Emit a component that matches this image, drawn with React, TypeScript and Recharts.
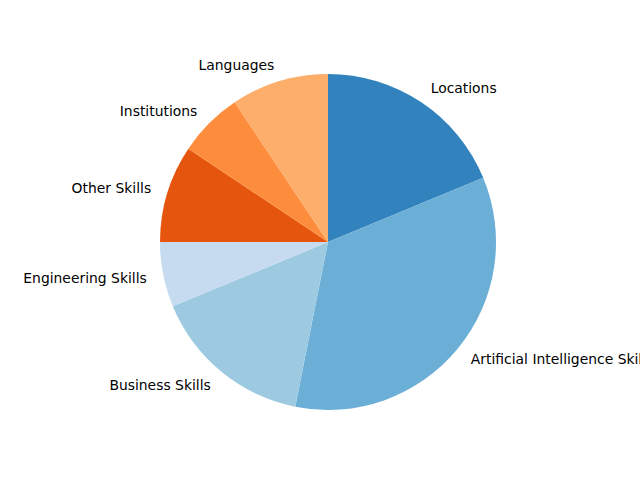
import { PieChart, Pie, Cell } from "recharts";

const categories = [
  "Locations",
  "Artificial Intelligence Skills",
  "Business Skills",
  "Engineering Skills",
  "Other Skills",
  "Institutions",
  "Languages",
];
const counts = [6, 11, 5, 2, 3, 2, 3];
const colors = ["#3182bd", "#6baed6", "#9ecae1", "#c6dbef", "#e6550d", "#fd8d3c", "#fdae6b"];

const data = categories.map((name, i) => ({ name, value: counts[i] }));

const RAD = Math.PI / 180;

function renderLabel(props: any) {
  const { cx, cy, midAngle, outerRadius, name } = props;
  const r = outerRadius * 1.1;
  const x = cx + r * Math.cos(midAngle * RAD);
  const y = cy - r * Math.sin(midAngle * RAD);
  return (
    <text
      x={x}
      y={y}
      fill="#000"
      fontSize={13.9}
      fontFamily="DejaVu Sans"
      textAnchor={x >= cx ? "start" : "end"}
      dominantBaseline="central"
    >
      {name}
    </text>
  );
}

export default function App() {
  return (
    <div style={{ position: "absolute", left: 0, top: 0, background: "#fff" }}>
      <PieChart width={640} height={480} margin={{ top: 0, right: 0, bottom: 0, left: 0 }}>
        <Pie
          data={data}
          dataKey="value"
          nameKey="name"
          cx={328}
          cy={242}
          outerRadius={168}
          startAngle={90}
          endAngle={-270}
          stroke="none"
          label={renderLabel}
          labelLine={false}
          isAnimationActive={false}
        >
          {data.map((d, i) => (
            <Cell key={d.name} fill={colors[i]} />
          ))}
        </Pie>
      </PieChart>
    </div>
  );
}
